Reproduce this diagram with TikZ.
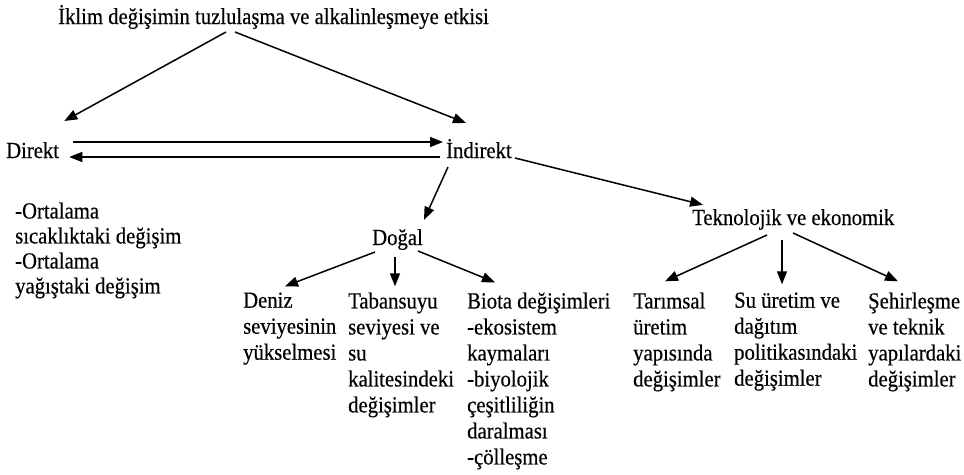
\documentclass[tikz,border=0pt]{standalone}
\usepackage{fontspec}
\setmainfont[FakeStretch=0.9, FakeBold=0.4]{Liberation Serif}
\usetikzlibrary{arrows.meta}

\begin{document}
\begin{tikzpicture}[x=1pt, y=-1pt,
  every node/.style = {inner sep=0pt, align=left,
    font=\fontsize{23}{26}\selectfont}]
    \tikzstyle{pil}=[line width=1.5pt, -{Triangle[length=13pt,width=10pt]}]
  \useasboundingbox (0,0) rectangle (964,474);
  \node[anchor=base west] (iklim) at (58,24) {İklim değişimin tuzlulaşma ve alkalinleşmeye etkisi};
  \node[anchor=base west] (direkt) at (6,158) {Direkt};
  \node[anchor=base west] (indirekt) at (446,158) {İndirekt};
  \node[anchor=north west, font=\fontsize{23}{25}\selectfont] (ortalama) at (15,202.3)
    {-Ortalama\\sıcaklıktaki değişim\\-Ortalama\\yağıştaki değişim};
  \node[anchor=base west] (dogal) at (372,245) {Doğal};
  \node[anchor=base west] (tekno) at (692,225) {Teknolojik ve ekonomik};
  \node[anchor=north west] (deniz) at (243,292.3) {Deniz\\seviyesinin\\yükselmesi};
  \node[anchor=north west] (taban) at (348,292.3) {Tabansuyu\\seviyesi ve\\su\\kalitesindeki\\değişimler};
  \node[anchor=north west] (biota) at (467,292.3) {Biota değişimleri\\-ekosistem\\kaymaları\\-biyolojik\\çeşitliliğin\\daralması\\-çölleşme};
  \node[anchor=north west] (tarim) at (633,292.3) {Tarımsal\\üretim\\yapısında\\değişimler};
  \node[anchor=north west] (su) at (734,292.3) {Su üretim ve\\dağıtım\\politikasındaki\\değişimler};
  \node[anchor=north west] (sehir) at (868,292.3) {Şehirleşme\\ve teknik\\yapılardaki\\değişimler};
  \draw[pil] ([shift={(168,8)}]iklim.base west) -- ([shift={(5,-37)}]direkt.base east);
  \draw[pil] ([shift={(177,8)}]iklim.base west) -- ([shift={(20,-35)}]indirekt.base west);
  \draw[pil] ([shift={(14,-16)}]direkt.base east) -- ([shift={(-3,-16)}]indirekt.base west);
  \draw[pil] ([shift={(-6,-1)}]indirekt.base west) -- ([shift={(10,-1)}]direkt.base east);
  \draw[pil] ([shift={(2,9)}]indirekt.base west) -- ([shift={(1,-9)}]dogal.north east);
  \draw[pil] ([shift={(3,0)}]indirekt.base east) -- ([shift={(11,-4)}]tekno.north west);
  \draw[pil] ([shift={(3,7)}]dogal.base west) -- ([shift={(42,-6)}]deniz.north west);
  \draw[pil, shorten >=6pt] ([shift={(23,12)}]dogal.base west) coordinate (d0) -- (d0 |- taban.north);
  \draw[pil] ([shift={(46,6)}]dogal.base west) -- ([shift={(28,-10)}]biota.north west);
  \draw[pil] ([shift={(75,10)}]tekno.base west) -- ([shift={(32,-11)}]tarim.north west);
  \draw[pil, shorten >=8pt] ([shift={(90,15)}]tekno.base west) coordinate (t0) -- (t0 |- su.north);
  \draw[pil] ([shift={(101,8)}]tekno.base west) -- ([shift={(30,-11)}]sehir.north west);
\end{tikzpicture}
\end{document}
